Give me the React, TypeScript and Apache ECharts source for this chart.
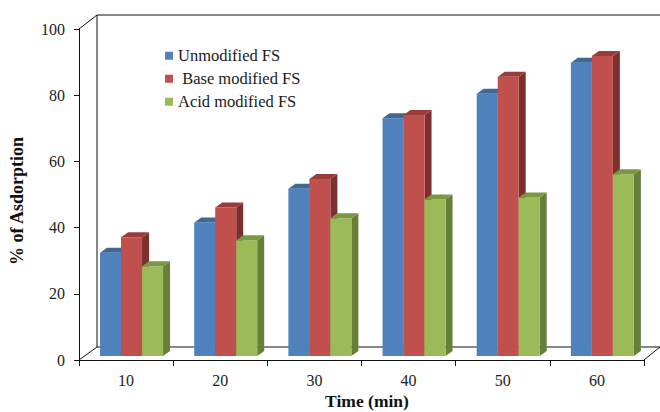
import React, { useEffect, useRef } from "react";
import * as echarts from "echarts";

const categories = ["10", "20", "30", "40", "50", "60"];
const seriesNames = ["Unmodified FS", " Base modified FS", "Acid modified FS"];
const unmodified = [31.2, 40.3, 50.5, 71.8, 79.2, 88.6];
const baseModified = [35.9, 44.9, 53.5, 72.8, 84.4, 90.6];
const acidModified = [27.1, 35.0, 41.6, 47.3, 47.9, 54.9];
const yTicks = { min: 0, max: 100, interval: 20 };
const xTitle = "Time (min)";
const yTitle = "% of Asdorption";

const palettes = [
  { front: "#4F81BD", side: "#385D8A", top: "#3E6898" },
  { front: "#C0504D", side: "#7D2F2D", top: "#9A3D3A" },
  { front: "#9BBB59", side: "#66803A", top: "#7A9844" },
];

const FONT = "'Liberation Serif', 'Times New Roman', serif";

function makeRender(s: number) {
  const pal = palettes[s];
  return (params: any, api: any) => {
    const cat = api.value(0);
    const v = api.value(1);
    const base = api.coord([cat, 0]);
    const topPt = api.coord([cat, v]);
    const band = api.size([1, 0])[0];
    const bw = band * 0.223;
    const offX = band * 0.058;
    const offY = 4;
    const x0 = base[0] - 1.5 * bw + offX + s * bw;
    const yb = base[1] - offY;
    const yt = topPt[1] - offY;
    const dx = 7;
    const dy = 5;
    return {
      type: "group",
      children: [
        {
          type: "polygon",
          shape: { points: [[x0 + bw, yt], [x0 + bw + dx, yt - dy], [x0 + bw + dx, yb - dy], [x0 + bw, yb]] },
          style: { fill: pal.side },
        },
        {
          type: "rect",
          shape: { x: x0, y: yt, width: bw, height: yb - yt },
          style: { fill: pal.front },
        },
        {
          type: "polygon",
          shape: { points: [[x0, yt], [x0 + dx, yt - dy], [x0 + bw + dx, yt - dy], [x0 + bw, yt]] },
          style: { fill: pal.top },
        },
      ],
    };
  };
}

export default function App() {
  const ref = useRef<HTMLDivElement>(null);
  useEffect(() => {
    if (!ref.current) return;
    const chart = echarts.init(ref.current, null, { renderer: "svg" });
    const all = [unmodified, baseModified, acidModified];
    const lineStyle = { stroke: "#111", lineWidth: 1 };
    const wall = [
      [97, 15, 660, 15],
      [97, 15, 97, 347],
      [97, 347, 660, 347],
      [79, 29, 97, 15],
      [79, 360, 97, 347],
      [644, 360, 660, 347],
    ];
    const graphics: any[] = wall.map((w) => ({
      type: "line",
      z: 0,
      silent: true,
      shape: { x1: w[0], y1: w[1], x2: w[2], y2: w[3] },
      style: lineStyle,
    }));
    graphics.push({
      type: "text",
      x: 17,
      y: 201,
      rotation: Math.PI / 2,
      silent: true,
      style: {
        text: yTitle,
        font: `bold 18px ${FONT}`,
        fill: "#111",
        textAlign: "center",
        textVerticalAlign: "middle",
      },
    });
    graphics.push({
      type: "text",
      x: 367,
      y: 401,
      silent: true,
      style: {
        text: xTitle,
        font: `bold 17.5px ${FONT}`,
        fill: "#111",
        textAlign: "center",
        textVerticalAlign: "middle",
      },
    });
    chart.setOption({
      animation: false,
      backgroundColor: "#ffffff",
      grid: { left: 79, right: 16, top: 29, bottom: 52, containLabel: false, outerBoundsMode: "none" },
      graphic: graphics,
      legend: {
        orient: "vertical",
        left: 160,
        top: 42,
        icon: "rect",
        itemWidth: 8,
        itemHeight: 8,
        itemGap: 5.5,
        data: seriesNames,
        textStyle: { fontFamily: FONT, fontSize: 16.5, color: "#1a1a1a", lineHeight: 17.5 },
      },
      xAxis: {
        type: "category",
        data: categories,
        boundaryGap: true,
        axisLine: { show: true, lineStyle: { color: "#111", width: 1 } },
        axisTick: { show: true, length: 6, lineStyle: { color: "#111" } },
        axisLabel: { fontFamily: FONT, fontSize: 16, color: "#222", margin: 12 },
        splitLine: { show: false },
      },
      yAxis: {
        type: "value",
        min: yTicks.min,
        max: yTicks.max,
        interval: yTicks.interval,
        axisLine: { show: true, lineStyle: { color: "#111", width: 1 } },
        axisTick: { show: true, length: 5, lineStyle: { color: "#111" } },
        axisLabel: { fontFamily: FONT, fontSize: 16, color: "#222", margin: 14 },
        splitLine: { show: false },
      },
      series: all.map((vals, s) => ({
        type: "custom",
        name: seriesNames[s],
        z: 3,
        itemStyle: { color: palettes[s].front },
        renderItem: makeRender(s),
        encode: { x: 0, y: 1 },
        data: vals.map((v, i) => [i, v]),
      })),
    });
    return () => chart.dispose();
  }, []);
  return (
    <div
      ref={ref}
      style={{ position: "fixed", left: 0, top: 0, width: 660, height: 412 }}
    />
  );
}
